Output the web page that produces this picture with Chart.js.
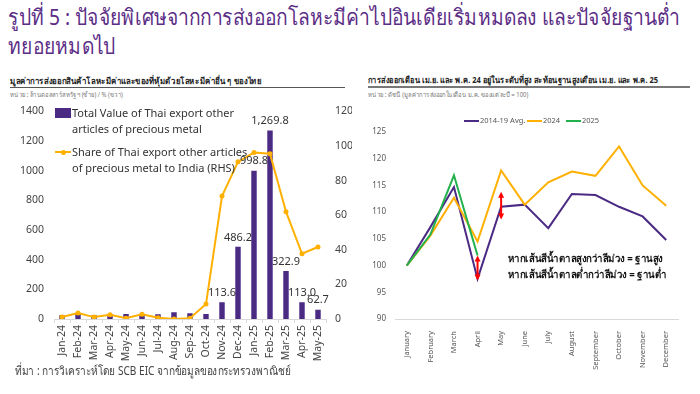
<!DOCTYPE html>
<html>
<head>
<meta charset="utf-8">
<script src="https://cdn.jsdelivr.net/npm/chart.js@4.4.1/dist/chart.umd.min.js"></script>
<style>
  body { margin: 0; background: #fff; font-family: "Noto Sans", sans-serif; }
  #page { position: relative; width: 700px; height: 394px; overflow: hidden; }
  .abs { position: absolute; white-space: nowrap; transform-origin: left top; }
  #title { left: 8px; top: 2px; font-size: 22px; line-height: 29px; color: #5b2d86; transform: scaleX(0.875); }
  .sub { font-size: 8.5px; color: #222; font-weight: bold; transform: scaleX(0.92); }
  .unit { font-size: 7px; color: #777; transform: scaleX(0.85); }
  .lg { font-size: 11px; color: #333; line-height: 15.5px; }
  .note { font-size: 10.5px; color: #111; font-weight: bold; transform: scaleX(0.92); }
  .leg2 { font-size: 7.5px; color: #555; }
  canvas { position: absolute; }
</style>
</head>
<body>
<div id="page">
  <div id="title" class="abs">รูปที่ 5 : ปัจจัยพิเศษจากการส่งออกโลหะมีค่าไปอินเดียเริ่มหมดลง และปัจจัยฐานต่ำ<br>ทยอยหมดไป</div>

  <div class="abs sub" style="left:10px; top:74px;">มูลค่าการส่งออกสินค้าโลหะมีค่าและของที่หุ้มด้วยโลหะมีค่าอื่น ๆ ของไทย</div>
  <div class="abs" style="left:10px; top:87px; width:335px; height:1px; background:#555;"></div>
  <div class="abs unit" style="left:10px; top:89px;">หน่วย : ล้านดอลลาร์สหรัฐฯ (ซ้าย) / % (ขวา)</div>

  <div class="abs sub" style="left:368px; top:73px; transform: scaleX(0.88);">การส่งออกเดือน เม.ย. และ พ.ค. 24 อยู่ในระดับที่สูง สะท้อนฐานสูงเดือน เม.ย. และ พ.ค. 25</div>
  <div class="abs" style="left:368px; top:86px; width:322px; height:2px; background:#777;"></div>
  <div class="abs unit" style="left:368px; top:89px;">หน่วย : ดัชนี (มูลค่าการส่งออกในเดือน ม.ค. ของแต่ละปี = 100)</div>

  <canvas id="leftChart" width="352" height="270" style="left:0; top:95px;"></canvas>
  <canvas id="rightChart" width="345" height="280" style="left:355px; top:95px;"></canvas>

  <!-- left legend -->
  <div class="abs" style="left:55px; top:108px; width:16px; height:10px; background:#4b2a84;"></div>
  <div class="abs lg" style="left:72px; top:105px;">Total Value of Thai export other<br>articles of precious metal</div>
  <div class="abs" style="left:55px; top:151px; width:16px; height:2px; background:#ffb000;"></div>
  <div class="abs" style="left:60.5px; top:149.5px; width:5px; height:5px; border-radius:50%; background:#ffb000;"></div>
  <div class="abs lg" style="left:72px; top:144px;">Share of Thai export other articles<br>of precious metal to India (RHS)</div>

  <!-- right legend -->
  <div class="abs" style="left:464px; top:120px; width:15px; height:2px; background:#4b2a84;"></div>
  <div class="abs leg2" style="left:480px; top:115px;">2014-19 Avg.</div>
  <div class="abs" style="left:527px; top:120px; width:15px; height:2px; background:#ffb000;"></div>
  <div class="abs leg2" style="left:543px; top:115px;">2024</div>
  <div class="abs" style="left:566px; top:120px; width:15px; height:2px; background:#22b14c;"></div>
  <div class="abs leg2" style="left:582px; top:115px;">2025</div>

  <div class="abs note" style="left:508px; top:250px;">หากเส้นสีน้ำตาลสูงกว่าสีม่วง = ฐานสูง</div>
  <div class="abs note" style="left:508px; top:266px;">หากเส้นสีน้ำตาลต่ำกว่าสีม่วง = ฐานต่ำ</div>

  <div class="abs" style="left:15px; top:361px; font-size:12px; color:#444; transform: scaleX(0.84);">ที่มา : การวิเคราะห์โดย SCB EIC จากข้อมูลของกระทรวงพาณิชย์</div>
</div>

<script>
// left chart: precious metal exports
const months = ['Jan-24', 'Feb-24', 'Mar-24', 'Apr-24', 'May-24', 'Jun-24', 'Jul-24', 'Aug-24', 'Sep-24',
                'Oct-24', 'Nov-24', 'Dec-24', 'Jan-25', 'Feb-25', 'Mar-25', 'Apr-25', 'May-25'];
const exportValue = [25, 41, 25, 34, 34, 34, 32, 45, 39, 34, 113.6, 486.2, 998.8, 1269.8, 322.9, 113.0, 62.7];
const indiaShare = [1.2, 3.5, 1.1, 2.4, 0.5, 2.7, 0.7, 0, 0.5, 8.6, 71, 90.8, 96.2, 95.5, 62, 37.7, 41.6];
const labelFrom = 10; // value labels shown from Nov-24 onwards

// right chart: export index (Jan = 100)
const calMonths = ['January', 'February', 'March', 'April', 'May', 'June', 'July',
                   'August', 'September', 'October', 'November', 'December'];
const avg1419 = [100, 107.2, 114.7, 97.5, 111, 111.4, 107, 113.4, 113.2, 111, 109.2, 104.8];
const y2024 = [100, 105.6, 112.7, 104.5, 117.8, 111.4, 115.6, 117.6, 116.8, 122.3, 115, 111.2];
const y2025 = [100, 105.8, 116.9, 101.9, null, null, null, null, null, null, null, null];
// red arrows: [month index, from, to]
const arrowSpans = [[3, 97.2, 101.9], [4, 108.6, 113.8]];

const PURPLE = '#4b2a84';
const ORANGE = '#ffb000';
const GREEN = '#22b14c';
const tickFont = { family: 'Noto Sans', size: 10.5 };

const barLabels = {
    id: 'barLabels',
    afterDatasetsDraw(chart) {
        const ctx = chart.ctx;
        const meta = chart.getDatasetMeta(1); // the bar dataset
        ctx.save();
        ctx.font = '11px "Noto Sans"';
        ctx.fillStyle = '#333';
        ctx.textAlign = 'center';
        ctx.textBaseline = 'bottom';
        meta.data.forEach(function(bar, i) {
            if (i < labelFrom) return;
            const txt = exportValue[i].toLocaleString('en-US', { minimumFractionDigits: 1, maximumFractionDigits: 1 });
            ctx.fillText(txt, bar.x, bar.y - 4);
        });
        ctx.restore();
    }
};

new Chart(document.getElementById('leftChart'), {
    data: {
        labels: months,
        datasets: [{
            type: 'line',
            data: indiaShare,
            yAxisID: 'y1',
            borderColor: ORANGE,
            backgroundColor: ORANGE,
            borderWidth: 2,
            pointRadius: 2.5,
            pointBorderWidth: 0,
            tension: 0,
            order: 0
        }, {
            type: 'bar',
            data: exportValue,
            yAxisID: 'y',
            backgroundColor: PURPLE,
            categoryPercentage: 1,
            barPercentage: 0.34,
            order: 1
        }]
    },
    options: {
        responsive: false,
        animation: false,
        layout: { padding: { top: 12, right: 0, left: 0, bottom: 0 } },
        plugins: { legend: { display: false }, tooltip: { enabled: false } },
        scales: {
            x: {
                grid: { display: true, drawOnChartArea: false, drawTicks: true, tickLength: 4, color: '#d9d9d9', offset: true },
                border: { color: '#d9d9d9' },
                ticks: { color: '#444', font: tickFont, minRotation: 90, maxRotation: 90, padding: 2, autoSkip: false },
                afterFit(s) { s.height = 46; }
            },
            y: {
                position: 'left',
                min: 0, max: 1400,
                grid: { display: false, drawTicks: false },
                border: { display: false },
                ticks: { stepSize: 200, color: '#444', font: tickFont, padding: 10, callback: v => String(v) },
                afterFit(s) { s.width = 54; }
            },
            y1: {
                position: 'right',
                min: 0, max: 120,
                grid: { display: false, drawTicks: false },
                border: { display: false },
                ticks: { stepSize: 20, color: '#444', font: tickFont, padding: 9 },
                afterFit(s) { s.width = 26; }
            }
        }
    },
    plugins: [barLabels]
});

const redArrows = {
    id: 'redArrows',
    afterDatasetsDraw(chart) {
        const ctx = chart.ctx;
        const xs = chart.scales.x, ys = chart.scales.y;
        ctx.save();
        ctx.strokeStyle = '#ff0000';
        ctx.fillStyle = '#ff0000';
        ctx.lineWidth = 2;
        arrowSpans.forEach(function(a) {
            const x = xs.getPixelForValue(a[0]);
            const y1 = ys.getPixelForValue(a[1]);
            const y2 = ys.getPixelForValue(a[2]);
            ctx.beginPath();
            ctx.moveTo(x, y1 - 4);
            ctx.lineTo(x, y2 + 4);
            ctx.stroke();
            [[y1, -1], [y2, 1]].forEach(function(h) {
                ctx.beginPath();
                ctx.moveTo(x, h[0]);
                ctx.lineTo(x - 3, h[0] + 6 * h[1]);
                ctx.lineTo(x + 3, h[0] + 6 * h[1]);
                ctx.closePath();
                ctx.fill();
            });
        });
        ctx.restore();
    }
};

function lineSet(data, color) {
    return { data: data, borderColor: color, backgroundColor: color, borderWidth: 2, pointRadius: 0, tension: 0, spanGaps: false };
}

new Chart(document.getElementById('rightChart'), {
    type: 'line',
    data: {
        labels: calMonths,
        datasets: [lineSet(y2025, GREEN), lineSet(y2024, ORANGE), lineSet(avg1419, PURPLE)]
    },
    options: {
        responsive: false,
        animation: false,
        layout: { padding: { top: 37, right: 22, left: 0, bottom: 0 } },
        plugins: { legend: { display: false }, tooltip: { enabled: false } },
        scales: {
            x: {
                offset: true,
                grid: { display: false },
                border: { color: '#d9d9d9' },
                ticks: { color: '#555', font: { family: 'Noto Sans', size: 7.5 }, minRotation: 90, maxRotation: 90, padding: 4, autoSkip: false },
                afterFit(s) { s.height = 56; }
            },
            y: {
                min: 90, max: 125,
                grid: { display: false, drawTicks: false },
                border: { display: false },
                ticks: { stepSize: 5, color: '#555', font: { family: 'Noto Sans', size: 8 }, padding: 9 },
                afterFit(s) { s.width = 40; }
            }
        }
    },
    plugins: [redArrows]
});
</script>
</body>
</html>
